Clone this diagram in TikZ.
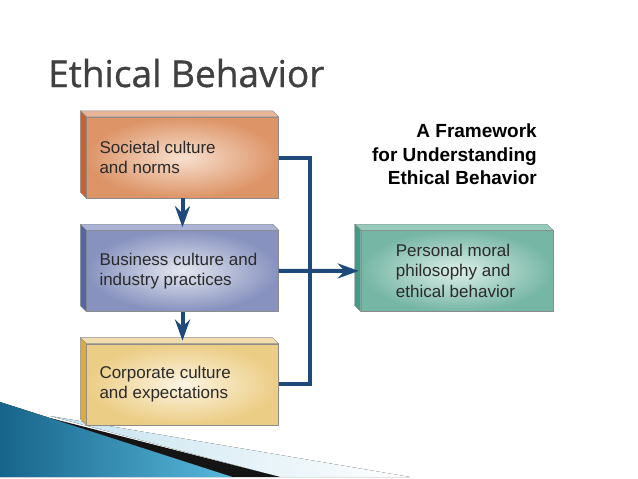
\documentclass[tikz,border=0pt]{standalone}
\usepackage{fontspec}
\setmainfont{Liberation Sans}
\newfontfamily\headfont[FakeBold=0.9]{Open Sans}
\usetikzlibrary{positioning,arrows.meta}

\definecolor{navy}{HTML}{1D4A7A}
\definecolor{ink}{HTML}{2A2A2A}
\definecolor{socin}{HTML}{F7E0CF}\definecolor{socout}{HTML}{DD9467}
\definecolor{soctop}{HTML}{E9B598}\definecolor{socside}{HTML}{C9602F}
\definecolor{bizin}{HTML}{E4E7F0}\definecolor{bizout}{HTML}{8792BF}
\definecolor{biztop}{HTML}{AAB3D3}\definecolor{bizside}{HTML}{5365A5}
\definecolor{corpin}{HTML}{FCF4E2}\definecolor{corpout}{HTML}{ECCD85}
\definecolor{corptop}{HTML}{F1DCAE}\definecolor{corpside}{HTML}{DCAA45}
\definecolor{persin}{HTML}{DCEFE8}\definecolor{persout}{HTML}{76B6A5}
\definecolor{perstop}{HTML}{96CBBB}\definecolor{persside}{HTML}{449A84}
\definecolor{swdark}{HTML}{17648A}\definecolor{swlight}{HTML}{58B9DC}
\definecolor{swpale}{HTML}{C4E2EE}

\tikzstyle{slab}=[minimum width=192pt,minimum height=81pt,inner sep=0pt,
  inner xsep=13pt,text width=166pt,align=flush left,draw=black!45,
  font=\fontsize{17}{20.5}\selectfont,text=ink,shading=radial]
\tikzstyle{link}=[navy,line width=4pt,line join=miter]
\tikzstyle{flow}=[link,-{Stealth[length=21pt,width=15pt,inset=7pt]}]

\newcommand\slabfaces[3]{%
  \filldraw[fill=#2,draw=black!45] (#1.north west) -- ++(-6,-6)
    -- ([shift={(-6,-6)}]#1.north east) -- (#1.north east) -- cycle;
  \filldraw[fill=#3,draw=black!45] (#1.north west) -- ++(-6,-6)
    -- ([shift={(-6,-6)}]#1.south west) -- (#1.south west) -- cycle;
}

\begin{document}
\begin{tikzpicture}[x=1pt,y=-1pt]
  \useasboundingbox[fill=white] (0,0) rectangle (638,479);

  \fill[left color=swpale,right color=white] (50,416) -- (410,477) -- (280,477) -- cycle;
  \fill[left color=swdark,right color=swlight] (0,402) -- (50,418) -- (233,477) -- (0,477) -- cycle;
  \fill[black!92] (50,418) -- (280,477) -- (233,477) -- cycle;

  \node[anchor=base west,inner sep=0pt,text=black!75,
    font=\headfont\fontsize{37}{40}\selectfont] (title) at (48,87) {Ethical Behavior};
  \node[anchor=north east,inner sep=0pt,align=right,
    font=\bfseries\fontsize{19}{23.3}\selectfont] (frame) at (537,124)
    {A Framework\\for Understanding\\Ethical Behavior};

  \node[slab,inner color=socin,outer color=socout] (soc) at (182.5,157.5)
    {Societal culture\\and norms};
  \node[slab,inner color=bizin,outer color=bizout,below=32pt of soc] (biz)
    {Business culture and\\industry practices};
  \node[slab,inner color=corpin,outer color=corpout,below=32pt of biz] (corp)
    {Corporate culture\\and expectations};
  \node[slab,inner color=persin,outer color=persout,inner xsep=35pt,
    text width=122pt,right=82pt of biz] (pers)
    {Personal moral\\philosophy and\\ethical behavior};

  \slabfaces{soc}{soctop}{socside}
  \slabfaces{biz}{biztop}{bizside}
  \slabfaces{corp}{corptop}{corpside}
  \slabfaces{pers}{perstop}{persside}

  \coordinate (bus) at (310,271);
  \draw[link] (soc.east) -| (bus) |- (corp.east);
  \draw[link] (biz.east) -- (bus);
  \draw[flow] (bus) -- ([shift={(-2,0)}]pers.west);
  \draw[flow] (soc.south) -- ([shift={(0,-3)}]biz.north);
  \draw[flow] (biz.south) -- ([shift={(0,-3)}]corp.north);
\end{tikzpicture}
\end{document}
